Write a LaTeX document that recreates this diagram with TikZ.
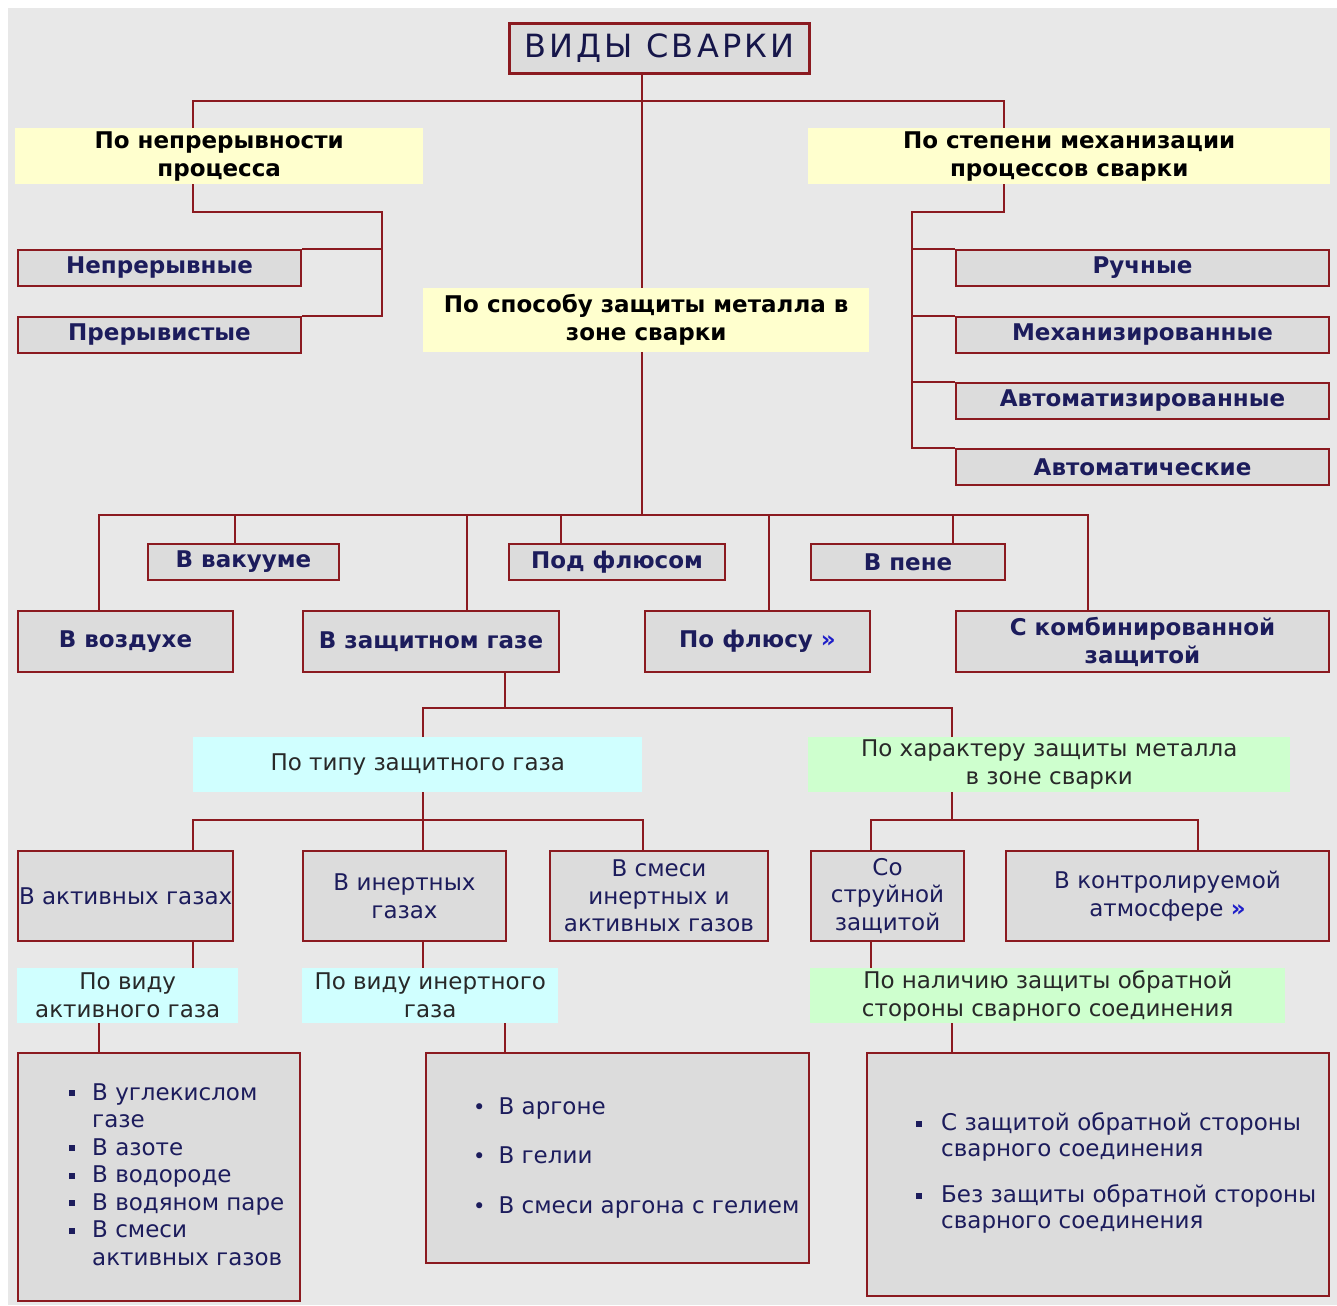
\documentclass[tikz,border=0pt]{standalone}
\usepackage{fontspec}
\setmainfont{DejaVu Sans}
\usetikzlibrary{positioning}
\definecolor{lred}{RGB}{139,26,32}
\definecolor{bggray}{RGB}{232,232,232}
\definecolor{boxgray}{RGB}{220,220,220}
\definecolor{navy}{RGB}{28,28,92}
\definecolor{yel}{RGB}{255,255,206}
\definecolor{cyn}{RGB}{208,255,255}
\definecolor{grn}{RGB}{206,255,206}
\definecolor{txtgray}{RGB}{40,40,40}
\definecolor{arrblue}{RGB}{30,30,200}
\newcommand\sqb{\rule[4pt]{6pt}{6pt}}
\newcommand\rdb{\raisebox{0pt}{\fontsize{21}{21}\selectfont •}}

\begin{document}
\begin{tikzpicture}[x=1pt,y=-1pt,
    every node/.style={inner xsep=1pt,inner ysep=1pt,align=center,anchor=north west,
      font=\fontsize{23}{28}\selectfont},
    cat/.style={draw=lred,line width=2pt,fill=boxgray,text=navy,font=\fontsize{23}{28}\selectfont\bfseries},
    sub/.style={draw=lred,line width=2pt,fill=boxgray,text=navy},
    head/.style={fill=yel,text=black,font=\fontsize{23}{28}\selectfont\bfseries},
    gas/.style={fill=cyn,text=txtgray},
    prot/.style={fill=grn,text=txtgray},
    conn/.style={draw=lred,line width=2pt}]
      \fill[white] (0,0) rectangle (1337,1305);
      \fill[bggray] (8,8) rectangle (1337,1305);
      \useasboundingbox (0,0) rectangle (1337,1305);

      % top level
      \node[cat,line width=3pt,text=navy!80!black,minimum width=300pt,minimum height=50pt,
        font=\fontsize{32}{36}\selectfont\addfontfeature{LetterSpace=10}] (title) at (508,22) {ВИДЫ СВАРКИ};
      \node[head,minimum width=408pt,minimum height=56pt] (yl) at (15,128) {По непрерывности\\процесса};
      \node[head,minimum width=522pt,minimum height=56pt] (yr) at (808,128) {По степени механизации\\процессов сварки};
      \node[head,minimum width=446pt,minimum height=64pt] (yc) at (423,288) {По способу защиты металла в\\зоне сварки};

      \node[cat,minimum width=283pt,minimum height=36pt] (nepr) at (17,249) {Непрерывные};
      \node[cat,minimum width=283pt,minimum height=36pt] (prer) at (17,316) {Прерывистые};
      \node[cat,minimum width=373pt,minimum height=36pt] (ruch) at (955,249) {Ручные};
      \node[cat,minimum width=373pt,minimum height=36pt] (mech) at (955,316) {Механизированные};
      \node[cat,minimum width=373pt,minimum height=36pt] (avtz) at (955,382) {Автоматизированные};
      \node[cat,minimum width=373pt,minimum height=36pt] (avtm) at (955,448) {Автоматические};

      % protection
      \node[cat,minimum width=191pt,minimum height=36pt] (vak) at (147,543) {В вакууме};
      \node[cat,minimum width=216pt,minimum height=36pt] (podfl) at (508,543) {Под флюсом};
      \node[cat,minimum width=194pt,minimum height=36pt] (pene) at (810,543) {В пене};
      \node[cat,minimum width=215pt,minimum height=61pt] (vozd) at (17,610) {В воздухе};
      \node[cat,minimum width=256pt,minimum height=61pt] (zgaz) at (302,610) {В защитном газе};
      \node[cat,minimum width=225pt,minimum height=61pt] (pofl) at (644,610) {По флюсу \textcolor{arrblue}{»}};
      \node[cat,minimum width=373pt,minimum height=61pt] (komb) at (955,610) {С комбинированной\\защитой};

      % gases
      \node[gas,minimum width=449pt,minimum height=55pt] (tipgaz) at (193,737) {По типу защитного газа};
      \node[prot,minimum width=482pt,minimum height=55pt] (harakt) at (808,737) {По характеру защиты металла\\в зоне сварки};
      \node[sub,minimum width=215pt,minimum height=90pt] (akt) at (17,850) {В активных газах};
      \node[sub,minimum width=203pt,minimum height=90pt] (inert) at (302,850) {В инертных\\газах};
      \node[sub,minimum width=218pt,minimum height=90pt,font=\fontsize{23}{27.5}\selectfont] (smes) at (549,850) {В смеси\\инертных и\\активных газов};
      \node[sub,minimum width=153pt,minimum height=90pt,font=\fontsize{23}{27.5}\selectfont] (strui) at (810,850) {Со\\струйной\\защитой};
      \node[sub,minimum width=323pt,minimum height=90pt] (kontr) at (1005,850) {В контролируемой\\атмосфере \textcolor{arrblue}{\bfseries »}};
      \node[gas,minimum width=221pt,minimum height=55pt] (vidakt) at (17,968) {По виду\\активного газа};
      \node[gas,minimum width=256pt,minimum height=55pt] (vidin) at (302,968) {По виду инертного\\газа};
      \node[prot,minimum width=475pt,minimum height=55pt] (nalich) at (810,968) {По наличию защиты обратной\\стороны сварного соединения};

      % lists
      \node[sub,minimum width=282pt,minimum height=248pt] (lst1) at (17,1052) {};
      \node[sub,minimum width=383pt,minimum height=210pt] (lst2) at (425,1052) {};
      \node[sub,minimum width=462pt,minimum height=243pt] (lst3) at (866,1052) {};
      \node[text=navy,right=51pt of lst1.west,font=\fontsize{23}{27.5}\selectfont] (txt1) {%
        \begin{tabular}{@{}l@{\hspace{17pt}}l@{}}
          \sqb & В углекислом\\
               & газе\\
          \sqb & В азоте\\
          \sqb & В водороде\\
          \sqb & В водяном паре\\
          \sqb & В смеси\\
               & активных газов
        \end{tabular}};
      \node[text=navy,right=47pt of lst2.west,font=\fontsize{23}{27.5}\selectfont] (txt2) {%
        \begin{tabular}{@{}l@{\hspace{13pt}}l@{}}
          \rdb & В аргоне\\[22pt]
          \rdb & В гелии\\[22pt]
          \rdb & В смеси аргона с гелием
        \end{tabular}};
      \node[text=navy,right=49pt of lst3.west,font=\fontsize{23}{26}\selectfont] (txt3) {%
        \begin{tabular}{@{}l@{\hspace{19pt}}l@{}}
          \sqb & С защитой обратной стороны\\
               & сварного соединения\\[20pt]
          \sqb & Без защиты обратной стороны\\
               & сварного соединения
        \end{tabular}};

      % connectors
      \coordinate (lc) at (193,101);
      \coordinate (rc) at (1004,101);
      \coordinate (lk) at (382,212);
      \coordinate (rk) at (912,212);
      \coordinate (ml) at (99,515);
      \coordinate (mb) at (642,515);
      \coordinate (gb) at (505,708);
      \coordinate (tb) at (423,820);
      \coordinate (hb) at (952,820);
      \coordinate (sc) at (871,820);

      \draw[conn] (title.south -| mb) -- (yc.north -| mb);
      \draw[conn] (yl.north -| lc) -- (lc) -- (rc) -- (yr.north -| rc);
      \draw[conn] (yl.south -| lc) |- (lk) -- (prer.north east -| lk) -- (prer.north east);
      \draw[conn] (nepr.north east -| lk) -- (nepr.north east);
      \draw[conn] (yr.south -| rc) |- (rk) -- (avtm.north west -| rk) -- (avtm.north west);
      \foreach \n in {ruch,mech,avtz}
        \draw[conn] (\n.north west -| rk) -- (\n.north west);

      \draw[conn] (yc.south -| mb) -- (mb);
      \draw[conn] (vozd.north -| ml) -- (ml) -- (mb);
      \draw[conn] ([xshift=-8.5pt]vak.north) |- (mb);
      \draw[conn] ([xshift=36pt]zgaz.north) |- (mb);
      \draw[conn] ([xshift=-56pt]podfl.north) |- (mb);
      \draw[conn] ([xshift=11.5pt]pofl.north) |- (mb);
      \draw[conn] ([xshift=45pt]pene.north) |- (mb);
      \draw[conn] ([xshift=-54.5pt]komb.north) |- (mb);

      \draw[conn] (zgaz.south -| gb) -- (gb);
      \draw[conn] (tipgaz.north -| tb) |- (gb);
      \draw[conn] (harakt.north -| hb) |- (gb);
      \draw[conn] (tipgaz.south -| tb) -- (tb);
      \draw[conn] (akt.north -| lc) |- (tb);
      \draw[conn] (inert.north -| tb) -- (tb);
      \draw[conn] ([xshift=-16pt]smes.north) |- (tb);
      \draw[conn] (harakt.south -| hb) -- (hb);
      \draw[conn] (strui.north -| sc) |- (hb);
      \draw[conn] ([xshift=30.5pt]kontr.north) |- (hb);

      \draw[conn] (akt.south -| lc) -- (vidakt.north -| lc);
      \draw[conn] (inert.south -| tb) -- (vidin.north -| tb);
      \draw[conn] (strui.south -| sc) -- (nalich.north -| sc);
      \draw[conn] (vidakt.south -| ml) -- (lst1.north -| ml);
      \draw[conn] (vidin.south -| gb) -- (lst2.north -| gb);
      \draw[conn] (nalich.south -| hb) -- (lst3.north -| hb);
    \end{tikzpicture}
\end{document}
